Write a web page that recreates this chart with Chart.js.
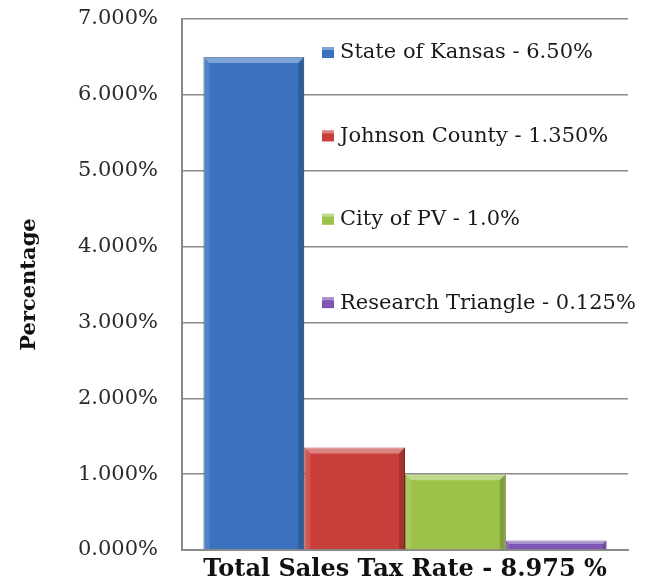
<!DOCTYPE html>
<html>
<head>
<meta charset="utf-8">
<script src="https://cdn.jsdelivr.net/npm/chart.js"></script>
<style>
  html, body { margin: 0; padding: 0; background: #fff; }
  #wrap { width: 662px; height: 583px; }
</style>
</head>
<body>
<div id="wrap"><canvas id="taxChart" width="662" height="583"></canvas></div>
<script>
// data
const categories = ["Total Sales Tax Rate - 8.975 %"];
const seriesNames = ["State of Kansas - 6.50%", "Johnson County - 1.350%", "City of PV - 1.0%", "Research Triangle - 0.125%"];
const seriesValues = [6.5, 1.35, 1.0, 0.125];
const yMin = 0, yMax = 7, yStep = 1;

const seriesColors = ["#3b72bd", "#c93f3c", "#9cc24a", "#7f55b3"];
const seriesEdges = ["#2a5590", "#922b29", "#6e8c30", "#5b3a86"];

const serif = "'DejaVu Serif', 'Liberation Serif', serif";

// bevel look for the bars, drawn on top of the library's own bar elements
const bevelPlugin = {
  id: "bevel",
  afterDatasetsDraw(chart) {
    const ctx = chart.ctx;
    chart.data.datasets.forEach((ds, i) => {
      chart.getDatasetMeta(i).data.forEach(bar => {
        const p = bar.getProps(["x", "y", "base", "width"], true);
        const l = p.x - p.width / 2, r = p.x + p.width / 2, t = p.y, b = p.base;
        const h = b - t;
        const e = Math.min(6, h / 2.5);
        ctx.save();
        // top edge light
        ctx.fillStyle = "rgba(255,255,255,0.35)";
        ctx.beginPath();
        ctx.moveTo(l, t); ctx.lineTo(r, t); ctx.lineTo(r - e, t + e); ctx.lineTo(l + e, t + e);
        ctx.closePath(); ctx.fill();
        // left edge slightly light
        ctx.fillStyle = "rgba(255,255,255,0.12)";
        ctx.beginPath();
        ctx.moveTo(l, t); ctx.lineTo(l + e, t + e); ctx.lineTo(l + e, b); ctx.lineTo(l, b);
        ctx.closePath(); ctx.fill();
        // right edge dark
        ctx.fillStyle = "rgba(0,0,0,0.18)";
        ctx.beginPath();
        ctx.moveTo(r, t); ctx.lineTo(r - e, t + e); ctx.lineTo(r - e, b); ctx.lineTo(r, b);
        ctx.closePath(); ctx.fill();
        ctx.restore();
      });
    });
  }
};

// legend floating inside the plot area
const floatLegend = {
  id: "floatLegend",
  afterDraw(chart) {
    const ctx = chart.ctx;
    const area = chart.chartArea;
    ctx.save();
    ctx.font = "21px " + serif;
    ctx.textBaseline = "middle";
    chart.data.datasets.forEach((ds, i) => {
      const x = area.left + 140;
      const y = area.top + 33 + i * 83.4;
      ctx.fillStyle = ds.backgroundColor;
      ctx.fillRect(x, y - 5, 12, 11);
      ctx.fillStyle = "rgba(255,255,255,0.35)";
      ctx.fillRect(x, y - 5, 12, 3);
      ctx.fillStyle = "#1a1a1a";
      ctx.fillText(ds.label, x + 18, y + 1);
    });
    ctx.restore();
  }
};

const ctx = document.getElementById("taxChart").getContext("2d");
new Chart(ctx, {
  type: "bar",
  data: {
    labels: categories,
    datasets: seriesNames.map((name, i) => ({
      label: name,
      data: [seriesValues[i]],
      backgroundColor: seriesColors[i],
      borderColor: seriesEdges[i],
      borderWidth: 1
    }))
  },
  options: {
    responsive: false,
    animation: false,
    layout: { padding: { left: 0, top: 19, right: 34, bottom: 0 } },
    datasets: { bar: { categoryPercentage: 0.904, barPercentage: 1.0 } },
    plugins: { legend: { display: false }, tooltip: { enabled: false } },
    scales: {
      x: {
        grid: { display: false, drawTicks: false },
        border: { color: "#8a8a8a", width: 2 },
        ticks: {
          color: "#111", padding: 5, maxRotation: 0, minRotation: 0, autoSkip: false,
          font: { family: serif, size: 24, weight: "bold" }
        },
        afterFit(s) { s.height = 33; }
      },
      y: {
        min: yMin, max: yMax,
        grid: { color: "#8a8a8a", lineWidth: 1.5, drawTicks: false },
        border: { color: "#8a8a8a", width: 2 },
        ticks: {
          stepSize: yStep, padding: 24, color: "#2a2a2a",
          font: { family: serif, size: 21 },
          callback: v => v.toFixed(3) + "%"
        },
        title: {
          display: true, text: "Percentage", color: "#111",
          font: { family: serif, size: 21, weight: "bold" },
          padding: { top: 17, bottom: 0 }
        },
        afterFit(s) {
          s.width = 182;
          s.paddingTop = 0;
          s.paddingBottom = 0;
        }
      }
    }
  },
  plugins: [bevelPlugin, floatLegend]
});
</script>
</body>
</html>
